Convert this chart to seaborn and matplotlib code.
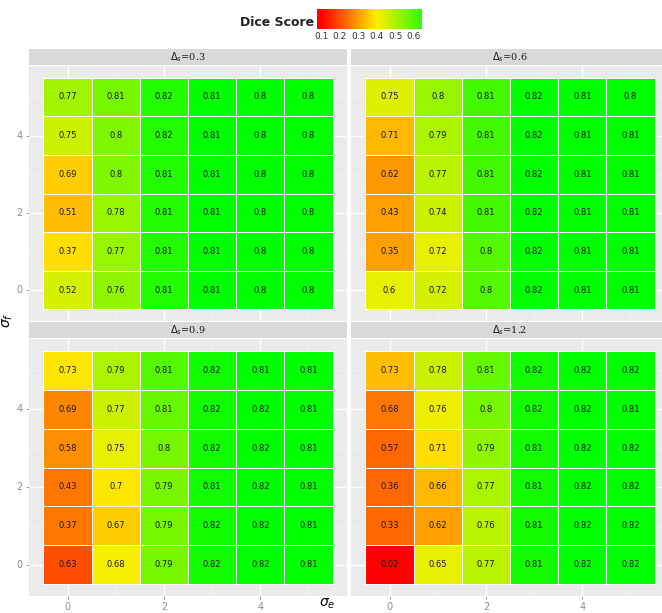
import numpy as np
import matplotlib
matplotlib.use('Agg')
import matplotlib.pyplot as plt
import seaborn as sns
from matplotlib.colors import LinearSegmentedColormap, Normalize

# axes values
sigma_e = [0, 1, 2, 3, 4, 5]
sigma_f = [5, 4, 3, 2, 1, 0]          # top row first, as drawn
deltas = ['0.3', '0.6', '0.9', '1.2']

# numbers printed in the cells (rows: sigma_f = 5 .. 0)
labels_03 = [[0.77, 0.81, 0.82, 0.81, 0.8, 0.8],
             [0.75, 0.8, 0.82, 0.81, 0.8, 0.8],
             [0.69, 0.8, 0.81, 0.81, 0.8, 0.8],
             [0.51, 0.78, 0.81, 0.81, 0.8, 0.8],
             [0.37, 0.77, 0.81, 0.81, 0.8, 0.8],
             [0.52, 0.76, 0.81, 0.81, 0.8, 0.8]]
labels_06 = [[0.75, 0.8, 0.81, 0.82, 0.81, 0.8],
             [0.71, 0.79, 0.81, 0.82, 0.81, 0.81],
             [0.62, 0.77, 0.81, 0.82, 0.81, 0.81],
             [0.43, 0.74, 0.81, 0.82, 0.81, 0.81],
             [0.35, 0.72, 0.8, 0.82, 0.81, 0.81],
             [0.6, 0.72, 0.8, 0.82, 0.81, 0.81]]
labels_09 = [[0.73, 0.79, 0.81, 0.82, 0.81, 0.81],
             [0.69, 0.77, 0.81, 0.82, 0.82, 0.81],
             [0.58, 0.75, 0.8, 0.82, 0.82, 0.81],
             [0.43, 0.7, 0.79, 0.81, 0.82, 0.81],
             [0.37, 0.67, 0.79, 0.82, 0.82, 0.81],
             [0.63, 0.68, 0.79, 0.82, 0.82, 0.81]]
labels_12 = [[0.73, 0.78, 0.81, 0.82, 0.82, 0.82],
             [0.68, 0.76, 0.8, 0.82, 0.82, 0.81],
             [0.57, 0.71, 0.79, 0.81, 0.82, 0.82],
             [0.36, 0.66, 0.77, 0.81, 0.82, 0.82],
             [0.33, 0.62, 0.76, 0.81, 0.82, 0.82],
             [0.02, 0.65, 0.77, 0.81, 0.82, 0.82]]

# dice score behind the fill colour (estimated from the colours)
fill_03 = [[0.51, 0.56, 0.66, 0.70, 0.70, 0.70],
           [0.46, 0.55, 0.66, 0.70, 0.70, 0.70],
           [0.36, 0.55, 0.66, 0.70, 0.70, 0.70],
           [0.34, 0.52, 0.66, 0.70, 0.70, 0.70],
           [0.38, 0.52, 0.66, 0.70, 0.70, 0.70],
           [0.45, 0.53, 0.66, 0.70, 0.70, 0.70]]
fill_06 = [[0.44, 0.52, 0.62, 0.70, 0.70, 0.70],
           [0.33, 0.50, 0.62, 0.70, 0.70, 0.70],
           [0.29, 0.48, 0.62, 0.70, 0.70, 0.70],
           [0.30, 0.46, 0.62, 0.70, 0.70, 0.70],
           [0.30, 0.43, 0.60, 0.70, 0.70, 0.70],
           [0.43, 0.45, 0.60, 0.70, 0.70, 0.70]]
fill_09 = [[0.39, 0.50, 0.60, 0.68, 0.70, 0.70],
           [0.27, 0.46, 0.58, 0.68, 0.70, 0.70],
           [0.28, 0.43, 0.56, 0.68, 0.70, 0.70],
           [0.25, 0.39, 0.56, 0.68, 0.70, 0.70],
           [0.25, 0.36, 0.56, 0.68, 0.70, 0.70],
           [0.20, 0.41, 0.56, 0.68, 0.70, 0.70]]
fill_12 = [[0.34, 0.46, 0.58, 0.68, 0.70, 0.70],
           [0.25, 0.42, 0.56, 0.68, 0.70, 0.70],
           [0.23, 0.38, 0.53, 0.68, 0.70, 0.70],
           [0.23, 0.33, 0.50, 0.68, 0.70, 0.70],
           [0.23, 0.30, 0.48, 0.68, 0.70, 0.70],
           [0.10, 0.43, 0.48, 0.68, 0.70, 0.70]]

labels = [labels_03, labels_06, labels_09, labels_12]
fills = [fill_03, fill_06, fill_09, fill_12]

W, H = 662, 613
cmap = LinearSegmentedColormap.from_list('dice', ['#FF0000', '#FFEE00', '#00FF00'])
norm = Normalize(vmin=0.1, vmax=0.7)


def px_ax(fig, x0, y0, x1, y1):
    return fig.add_axes([x0 / W, 1 - y1 / H, (x1 - x0) / W, (y1 - y0) / H])


fig = plt.figure(figsize=(W / 100, H / 100), dpi=100)
fig.patch.set_facecolor('white')

panels = [(29, 66, 347, 321), (351, 66, 669, 321),
          (29, 339, 347, 596), (351, 339, 669, 596)]
strips = [(29, 49, 347, 65), (351, 49, 669, 65),
          (29, 322, 347, 338), (351, 322, 669, 338)]

for k in range(4):
    x0, y0, x1, y1 = panels[k]
    ax = px_ax(fig, x0, y0, x1, y1)
    ax.set_facecolor('#EBEBEB')
    ax.set_axisbelow(True)
    sns.heatmap(np.array(fills[k]), ax=ax, cmap=cmap, vmin=0.1, vmax=0.7,
                annot=np.array(labels[k]), fmt='g', cbar=False,
                linewidths=0.4, linecolor='white',
                annot_kws={'fontsize': 6, 'color': '#1a1a1a'})
    ax.set_xlim(-0.3, 6.3)
    ax.set_ylim(6.3, -0.3)
    ax.set_xticks([0.5, 2.5, 4.5])
    ax.set_xticks([1.5, 3.5, 5.5], minor=True)
    ax.set_yticks([5.5, 3.5, 1.5])
    ax.set_yticks([4.5, 2.5, 0.5], minor=True)
    ax.grid(which='major', color='white', linewidth=1.0)
    ax.grid(which='minor', color='#F5F5F5', linewidth=0.5)
    for s in ax.spines.values():
        s.set_visible(False)
    ax.tick_params(which='minor', length=0)
    ax.tick_params(which='major', length=2.5, width=0.6, color='#8C8C8C',
                   labelsize=7, labelcolor='#8C8C8C', pad=2)
    if k >= 2:
        ax.set_xticklabels(['0', '2', '4'], rotation=0)
    else:
        ax.set_xticklabels([])
        ax.tick_params(axis='x', length=0)
    if k % 2 == 0:
        ax.set_yticklabels(['0', '2', '4'], rotation=0)
    else:
        ax.set_yticklabels([])
        ax.tick_params(axis='y', length=0)
    ax.set_xlabel('')
    ax.set_ylabel('')

    sx0, sy0, sx1, sy1 = strips[k]
    sax = px_ax(fig, sx0, sy0, sx1, sy1)
    sax.set_facecolor('#D9D9D9')
    sax.set_xticks([])
    sax.set_yticks([])
    for s in sax.spines.values():
        s.set_visible(False)
    sax.text(0.5, 0.5, r'$\Delta_s$=' + deltas[k], ha='center', va='center',
             fontsize=7, color='#1a1a1a', family='DejaVu Serif',
             transform=sax.transAxes)

# axis titles
fig.text(8 / W, 1 - 320 / H, r'$\sigma_f$', rotation=90, ha='center',
         va='center', fontsize=10)
fig.text(327 / W, 1 - 604 / H, r'$\sigma_e$', ha='center', va='center',
         fontsize=10)

# colour legend
lax = px_ax(fig, 317, 9, 422, 29)
lo, hi = 0.078, 0.643
grad = np.linspace(lo, hi, 200).reshape(1, -1)
lax.imshow(grad, cmap=cmap, norm=norm, aspect='auto',
           extent=(lo, hi, 0, 1))
lax.set_xlim(lo, hi)
lax.set_yticks([])
lax.set_xticks([0.1, 0.2, 0.3, 0.4, 0.5, 0.6])
lax.set_xticklabels(['0.1', '0.2', '0.3', '0.4', '0.5', '0.6'])
lax.tick_params(axis='x', length=0, labelsize=6.5, pad=2, labelcolor='#333333')
for s in lax.spines.values():
    s.set_visible(False)
fig.text(314 / W, 1 - 22 / H, 'Dice Score', ha='right', va='center',
         fontsize=9, fontweight='bold', color='#222222')

fig.savefig('out.png', dpi=100)
